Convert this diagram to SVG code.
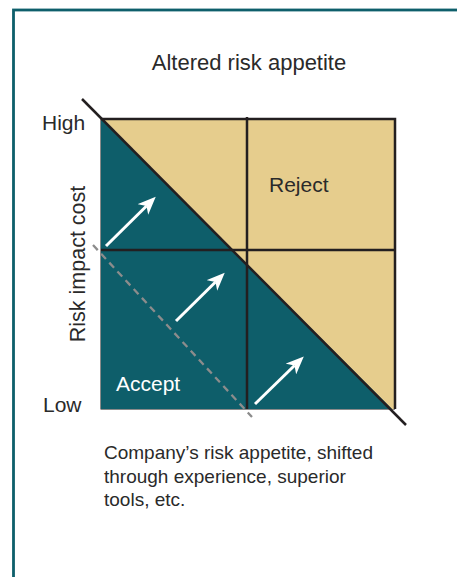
<svg xmlns="http://www.w3.org/2000/svg" width="457" height="577" viewBox="0 0 457 577">
<defs>
<style>
.t{font-family:"Liberation Sans",Arial,sans-serif;fill:#2a2a2a}
.dark{stroke:#231f20;stroke-width:2.5;fill:none}
.arrow{stroke:#ffffff;stroke-width:3;fill:none;marker-end:url(#ah)}
</style>
<marker id="ah" markerUnits="userSpaceOnUse" markerWidth="19" markerHeight="15" refX="5" refY="7.5" orient="auto" viewBox="0 0 19 15">
<path d="M0,0 L18,7.5 L0,15 L5,7.5 Z" fill="#ffffff"/>
</marker>
</defs>
<rect width="457" height="577" fill="#ffffff"/>
<rect id="frame" x="13.5" y="10" width="500" height="700" fill="none" stroke="#0e5f6b" stroke-width="2.8"/>
<text class="t" x="249" y="70" font-size="22" text-anchor="middle">Altered risk appetite</text>
<g id="matrix">
<rect x="101" y="119" width="294" height="290" fill="#e6cd8d"/>
<polygon points="101,119 101,409 392,409" fill="#0e5e6a"/>
<line x1="100.5" y1="119" x2="100.5" y2="409.5" stroke="#8a8a8a" stroke-width="1"/>
<line x1="101" y1="409.5" x2="395" y2="409.5" stroke="#8a8a8a" stroke-width="1"/>
<path class="dark" d="M101,119 H395 V409"/>
</g>
<g id="connectors">
<line class="dark" x1="247" y1="117" x2="247" y2="409"/>
<line class="dark" x1="101" y1="250" x2="395" y2="250"/>
<line class="dark" x1="82" y1="99" x2="406" y2="425"/>
<line x1="93" y1="245" x2="252" y2="417" stroke="#8c8c8c" stroke-width="2.3" stroke-dasharray="7 5"/>
<line class="arrow" x1="106" y1="246" x2="146.5" y2="206"/>
<line class="arrow" x1="176" y1="321" x2="215.5" y2="282"/>
<line class="arrow" x1="255" y1="404" x2="294.5" y2="365.5"/>
</g>
<g id="labels">
<text class="t" x="42" y="130" font-size="21">High</text>
<text class="t" x="43" y="412" font-size="21">Low</text>
<text class="t" font-size="21.5" text-anchor="middle" transform="translate(85,264) rotate(-90)">Risk impact cost</text>
<text class="t" x="269" y="192" font-size="21">Reject</text>
<text x="116" y="391" font-size="21" font-family="Liberation Sans, Arial, sans-serif" fill="#ffffff">Accept</text>
</g>
<g id="caption">
<text class="t" x="104" y="459" font-size="19">Company’s risk appetite, shifted</text>
<text class="t" x="104" y="483" font-size="19">through experience, superior</text>
<text class="t" x="104" y="506" font-size="19">tools, etc.</text>
</g>
</svg>
